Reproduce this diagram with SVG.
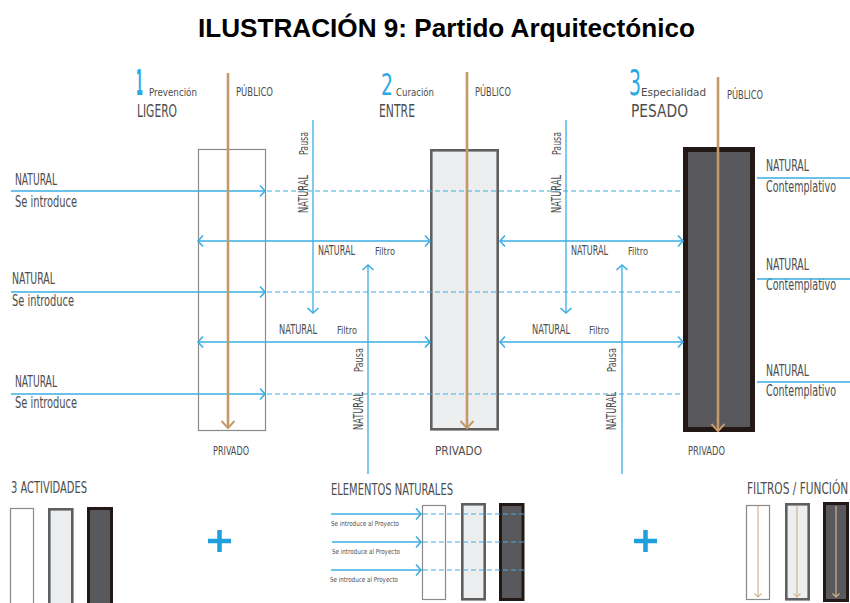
<svg xmlns="http://www.w3.org/2000/svg" width="850" height="603" viewBox="0 0 850 603">
<defs>
<style>
.t{font-family:"DejaVu Sans Condensed","DejaVu Sans",sans-serif;fill:#4d4d4d}
.title{font-family:"Liberation Sans",Arial,sans-serif;font-weight:bold;font-size:26px;fill:#000}
.num{font-family:"DejaVu Sans Condensed","DejaVu Sans",sans-serif;fill:#2aa9e3}
.bl{stroke:#3aaee4;stroke-width:1.3;fill:none}
.dash{stroke:#3aaee4;stroke-width:1.2;fill:none;stroke-dasharray:5 3}
.tan{stroke:#c49a6a;stroke-width:2.6;fill:none}
.tans{stroke:#d2b48c;stroke-width:1.2;fill:none}
.b1{fill:#fff;stroke:#8a8a8a;stroke-width:1.2}
.b2{fill:#eceef0;stroke:#5f5f5f;stroke-width:2.6}
.b3{fill:#58585d;stroke:#231815;stroke-width:5}
.plus{stroke:#1d9fe0;stroke-width:4.5;fill:none}
</style>
<marker id="ab" markerUnits="userSpaceOnUse" viewBox="-8 -8 16 16" markerWidth="16" markerHeight="16" refX="0" refY="0" orient="auto-start-reverse">
<path d="M-5,-5.5 L0,0 L-5,5.5" fill="none" stroke="#3aaee4" stroke-width="1.6"/>
</marker>
<marker id="at" markerUnits="userSpaceOnUse" viewBox="-10 -10 20 20" markerWidth="20" markerHeight="20" refX="0" refY="0" orient="auto">
<path d="M-7,-6.5 L0,0 L-7,6.5" fill="none" stroke="#c49a6a" stroke-width="2"/>
</marker>
<marker id="ats" markerUnits="userSpaceOnUse" viewBox="-6 -6 12 12" markerWidth="12" markerHeight="12" refX="0" refY="0" orient="auto">
<path d="M-3.5,-3.5 L0,0 L-3.5,3.5" fill="none" stroke="#d2b48c" stroke-width="1.2"/>
</marker>
</defs>

<text class="title" x="198" y="37" textLength="497" lengthAdjust="spacingAndGlyphs">ILUSTRACIÓN 9: Partido Arquitectónico</text>

<!-- main nodes -->
<g id="node-ligero">
<rect class="b1" x="198.5" y="149.5" width="67" height="281"/>
<text class="num" transform="translate(136,95) scale(0.3,1)" font-size="36" font-weight="bold" textLength="23" lengthAdjust="spacingAndGlyphs">1</text>
<text class="t" x="149" y="96" font-size="11" textLength="48" lengthAdjust="spacingAndGlyphs">Prevención</text>
<text class="t" x="137" y="117" font-size="18" textLength="40" lengthAdjust="spacingAndGlyphs">LIGERO</text>
<text class="t" x="236" y="96" font-size="13" textLength="37" lengthAdjust="spacingAndGlyphs">PÚBLICO</text>
<text class="t" x="213" y="455" font-size="12" textLength="36" lengthAdjust="spacingAndGlyphs">PRIVADO</text>
</g>
<g id="node-entre">
<rect class="b2" x="431.3" y="150.3" width="66.4" height="279"/>
<text class="num" transform="translate(381,95) scale(0.7,1)" font-size="30" textLength="17" lengthAdjust="spacingAndGlyphs">2</text>
<text class="t" x="396" y="96" font-size="11" textLength="38" lengthAdjust="spacingAndGlyphs">Curación</text>
<text class="t" x="379" y="117" font-size="18" textLength="36" lengthAdjust="spacingAndGlyphs">ENTRE</text>
<text class="t" x="475" y="96" font-size="13" textLength="36" lengthAdjust="spacingAndGlyphs">PÚBLICO</text>
<text class="t" x="435" y="455" font-size="12" textLength="47" lengthAdjust="spacingAndGlyphs">PRIVADO</text>
</g>
<g id="node-pesado">
<rect class="b3" x="685.5" y="149.5" width="67" height="280"/>
<text class="num" transform="translate(629,95) scale(0.6,1)" font-size="36" textLength="20" lengthAdjust="spacingAndGlyphs">3</text>
<text class="t" x="641" y="96" font-size="11" textLength="65" lengthAdjust="spacingAndGlyphs">Especialidad</text>
<text class="t" x="631" y="117" font-size="17" textLength="57" lengthAdjust="spacingAndGlyphs">PESADO</text>
<text class="t" x="727" y="99" font-size="13" textLength="36" lengthAdjust="spacingAndGlyphs">PÚBLICO</text>
<text class="t" x="688" y="455" font-size="12" textLength="37" lengthAdjust="spacingAndGlyphs">PRIVADO</text>
</g>

<!-- side labels -->
<g id="labels-left">
<text class="t" x="15" y="185" font-size="16" textLength="42" lengthAdjust="spacingAndGlyphs">NATURAL</text>
<text class="t" x="15" y="207" font-size="16" textLength="62" lengthAdjust="spacingAndGlyphs">Se introduce</text>
<text class="t" x="12" y="284" font-size="16" textLength="43" lengthAdjust="spacingAndGlyphs">NATURAL</text>
<text class="t" x="12" y="306" font-size="16" textLength="62" lengthAdjust="spacingAndGlyphs">Se introduce</text>
<text class="t" x="15" y="387" font-size="16" textLength="42" lengthAdjust="spacingAndGlyphs">NATURAL</text>
<text class="t" x="15" y="408" font-size="16" textLength="62" lengthAdjust="spacingAndGlyphs">Se introduce</text>
</g>
<g id="labels-right">
<text class="t" x="766" y="171" font-size="16" textLength="43" lengthAdjust="spacingAndGlyphs">NATURAL</text>
<text class="t" transform="translate(766,192) scale(0.68,1)" font-size="16" textLength="103" lengthAdjust="spacingAndGlyphs">Contemplativo</text>
<text class="t" x="766" y="270" font-size="16" textLength="43" lengthAdjust="spacingAndGlyphs">NATURAL</text>
<text class="t" transform="translate(766,290) scale(0.68,1)" font-size="16" textLength="103" lengthAdjust="spacingAndGlyphs">Contemplativo</text>
<text class="t" x="766" y="376" font-size="16" textLength="43" lengthAdjust="spacingAndGlyphs">NATURAL</text>
<text class="t" transform="translate(766,396) scale(0.68,1)" font-size="16" textLength="103" lengthAdjust="spacingAndGlyphs">Contemplativo</text>
</g>
<g id="labels-middle">
<text class="t" x="318" y="255" font-size="14" textLength="37" lengthAdjust="spacingAndGlyphs">NATURAL</text>
<text class="t" x="375" y="255" font-size="10" textLength="20" lengthAdjust="spacingAndGlyphs">Filtro</text>
<text class="t" x="279" y="334" font-size="14" textLength="38" lengthAdjust="spacingAndGlyphs">NATURAL</text>
<text class="t" x="337" y="334" font-size="10" textLength="20" lengthAdjust="spacingAndGlyphs">Filtro</text>
<text class="t" x="571" y="255" font-size="14" textLength="37" lengthAdjust="spacingAndGlyphs">NATURAL</text>
<text class="t" x="628" y="255" font-size="10" textLength="20" lengthAdjust="spacingAndGlyphs">Filtro</text>
<text class="t" x="532" y="334" font-size="14" textLength="38" lengthAdjust="spacingAndGlyphs">NATURAL</text>
<text class="t" x="589" y="334" font-size="10" textLength="20" lengthAdjust="spacingAndGlyphs">Filtro</text>
<text class="t" transform="translate(308,155) rotate(-90)" font-size="12" textLength="23" lengthAdjust="spacingAndGlyphs">Pausa</text>
<text class="t" transform="translate(308,213) rotate(-90)" font-size="14" textLength="38" lengthAdjust="spacingAndGlyphs">NATURAL</text>
<text class="t" transform="translate(561,155) rotate(-90)" font-size="12" textLength="23" lengthAdjust="spacingAndGlyphs">Pausa</text>
<text class="t" transform="translate(561,213) rotate(-90)" font-size="14" textLength="38" lengthAdjust="spacingAndGlyphs">NATURAL</text>
<text class="t" transform="translate(363,372) rotate(-90)" font-size="12" textLength="24" lengthAdjust="spacingAndGlyphs">Pausa</text>
<text class="t" transform="translate(363,430) rotate(-90)" font-size="14" textLength="38" lengthAdjust="spacingAndGlyphs">NATURAL</text>
<text class="t" transform="translate(616,372) rotate(-90)" font-size="12" textLength="24" lengthAdjust="spacingAndGlyphs">Pausa</text>
<text class="t" transform="translate(616,430) rotate(-90)" font-size="14" textLength="38" lengthAdjust="spacingAndGlyphs">NATURAL</text>
</g>

<!-- connectors -->
<g id="connectors">
<path class="dash" d="M267,191 H683 M267,292 H683 M267,394 H683"/>
<path class="bl" d="M11,191 H265" marker-end="url(#ab)"/>
<path class="bl" d="M11,292 H265" marker-end="url(#ab)"/>
<path class="bl" d="M11,394 H265" marker-end="url(#ab)"/>
<path class="bl" d="M198,241 H430" marker-start="url(#ab)" marker-end="url(#ab)"/>
<path class="bl" d="M198,342 H430" marker-start="url(#ab)" marker-end="url(#ab)"/>
<path class="bl" d="M500,241 H683" marker-start="url(#ab)" marker-end="url(#ab)"/>
<path class="bl" d="M500,342 H683" marker-start="url(#ab)" marker-end="url(#ab)"/>
<path class="bl" d="M313,120 V313" marker-end="url(#ab)"/>
<path class="bl" d="M566,120 V313" marker-end="url(#ab)"/>
<path class="bl" d="M368,474 V265" marker-end="url(#ab)"/>
<path class="bl" d="M622,474 V265" marker-end="url(#ab)"/>
<path class="bl" d="M757,178 H850 M757,279 H850 M757,382 H850"/>
<path class="tan" d="M228,73 V428" marker-end="url(#at)"/>
<path class="tan" d="M467,72 V428" marker-end="url(#at)"/>
<path class="tan" d="M718,77 V431" marker-end="url(#at)"/>
</g>

<!-- bottom legend -->
<g id="legend-actividades">
<text class="t" x="11" y="493" font-size="15" textLength="76" lengthAdjust="spacingAndGlyphs">3 ACTIVIDADES</text>
<rect class="b1" x="10.5" y="508.5" width="23" height="100"/>
<rect class="b2" x="49.3" y="509.3" width="23" height="100"/>
<rect class="b3" x="88.5" y="508.5" width="23" height="100" style="stroke-width:3"/>
</g>
<g id="plus-1"><path class="plus" d="M208,541 H231 M219.5,530 V552"/></g>
<g id="legend-elementos">
<text class="t" x="331" y="495" font-size="15" textLength="122" lengthAdjust="spacingAndGlyphs">ELEMENTOS NATURALES</text>
<rect class="b1" x="422.5" y="505.5" width="23" height="94"/>
<rect class="b2" x="462.3" y="504.3" width="22.4" height="95"/>
<rect class="b3" x="500.5" y="504.5" width="22.5" height="95" style="stroke-width:3"/>
<path class="dash" d="M423,514 H524 M423,542 H524 M423,570 H524"/>
<path class="bl" d="M331,514 H421" marker-end="url(#ab)"/>
<path class="bl" d="M332,542 H421" marker-end="url(#ab)"/>
<path class="bl" d="M331,570 H421" marker-end="url(#ab)"/>
<text class="t" x="331" y="526" font-size="7" textLength="68" lengthAdjust="spacingAndGlyphs">Se introduce al Proyecto</text>
<text class="t" x="332" y="554" font-size="7" textLength="68" lengthAdjust="spacingAndGlyphs">Se introduce al Proyecto</text>
<text class="t" x="330" y="582" font-size="7" textLength="68" lengthAdjust="spacingAndGlyphs">Se introduce al Proyecto</text>
</g>
<g id="plus-2"><path class="plus" d="M634,541 H657 M645.5,530 V552"/></g>
<g id="legend-filtros">
<text class="t" transform="translate(747,494) scale(0.75,1)" font-size="15" textLength="135" lengthAdjust="spacingAndGlyphs">FILTROS / FUNCIÓN</text>
<rect class="b1" x="746.5" y="505.5" width="23" height="94"/>
<rect class="b2" x="786.3" y="504.3" width="22.4" height="95"/>
<rect class="b3" x="824.5" y="503.5" width="23" height="97" style="stroke-width:3"/>
<path class="tans" d="M758,506 V597" marker-end="url(#ats)"/>
<path class="tans" d="M797,506 V597" marker-end="url(#ats)"/>
<path class="tans" d="M836,506 V597" marker-end="url(#ats)"/>
</g>
</svg>
